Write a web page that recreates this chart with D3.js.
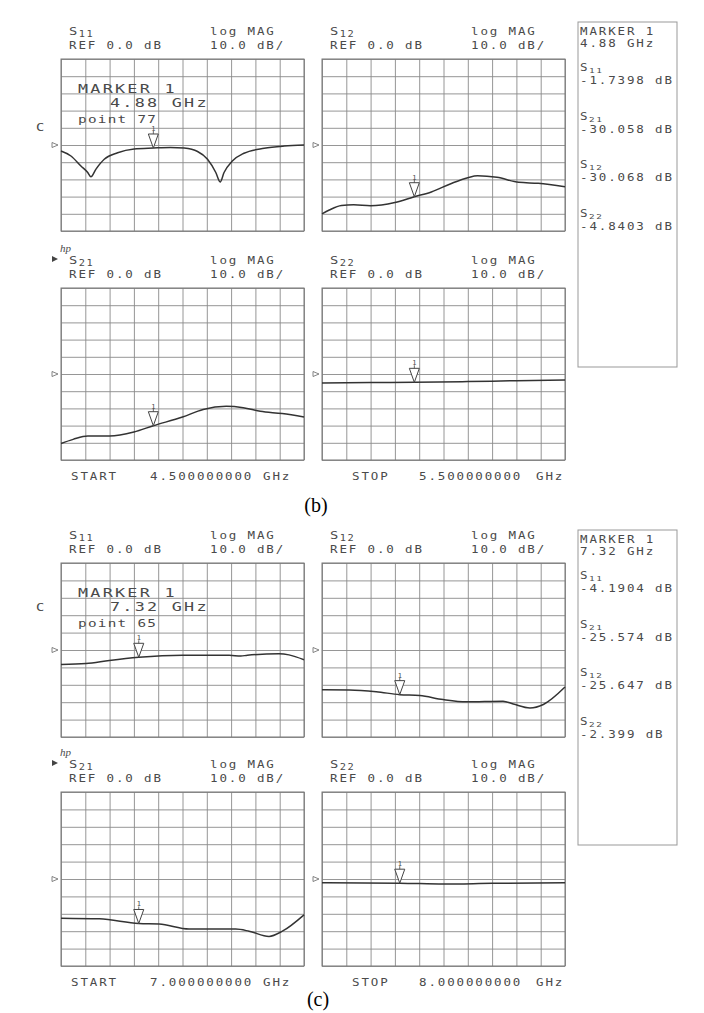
<!DOCTYPE html>
<html>
<head>
<meta charset="utf-8">
<script src="https://cdn.jsdelivr.net/npm/d3@7"></script>
<style>
  body { margin: 0; background: #fff; }
  text { font-family: "DejaVu Sans Mono", monospace; fill: #4a4a4a; }
</style>
</head>
<body>
<svg id="chart" width="704" height="1013"></svg>
<script>
// sweep settings
const sweepB = [4.5, 5.5], markerFreqB = 4.88, markerPointB = 77;
const sweepC = [7.0, 8.0], markerFreqC = 7.32, markerPointC = 65;

// marker readouts (S11, S21, S12, S22)
const params = ["S11", "S21", "S12", "S22"];
const markerDbB = [-1.7398, -30.058, -30.068, -4.8403];
const markerDbC = [-4.1904, -25.574, -25.647, -2.399];

// traces, panel (b)
const s11bF = [4.5, 4.541, 4.582, 4.61, 4.623, 4.644, 4.678, 4.733, 4.801, 4.88, 4.95, 5.007, 5.062, 5.103, 5.137, 5.155, 5.171, 5.205, 5.253, 5.336, 5.418, 5.5];
const s11bDb = [-3.5, -6.4, -12.2, -16, -18.5, -14, -8.3, -4.5, -2.3, -1.74, -1.4, -1.8, -3.8, -8.3, -16, -21.5, -16, -9.3, -4.8, -1.9, -0.6, 0];
const s12bF = [4.5, 4.53, 4.58, 4.63, 4.7, 4.8, 4.88, 4.95, 5.03, 5.1, 5.14, 5.22, 5.31, 5.39, 5.5];
const s12bDb = [-40, -37.8, -35.2, -34.8, -35.3, -33.4, -30.07, -27.3, -22.5, -19, -17.9, -18.8, -21.7, -22.3, -24.3];
const s21bF = [4.5, 4.55, 4.61, 4.7, 4.8, 4.88, 5.0, 5.085, 5.18, 5.25, 5.32, 5.41, 5.5];
const s21bDb = [-40.4, -38, -36, -36, -33.7, -30.06, -25, -20.6, -18.8, -19.6, -21.7, -23, -25];
const s22bF = [4.5, 4.7, 4.88, 5.1, 5.3, 5.5];
const s22bDb = [-5.3, -5.0, -4.84, -4.4, -3.9, -3.5];

// traces, panel (c)
const s11cF = [7.0, 7.103, 7.199, 7.32, 7.5, 7.692, 7.74, 7.767, 7.897, 7.938, 8.0];
const s11cDb = [-8.3, -7.8, -6, -4.19, -3.0, -3.0, -3.5, -3.0, -2.2, -2.8, -5.6];
const s12cF = [7.0, 7.113, 7.223, 7.32, 7.402, 7.498, 7.594, 7.745, 7.787, 7.856, 7.911, 8.0];
const s12cDb = [-22.9, -23, -24, -25.65, -26.2, -28.5, -29.8, -29.4, -31, -33.3, -31.3, -21.3];
const s21cF = [7.0, 7.158, 7.32, 7.404, 7.527, 7.719, 7.774, 7.856, 7.911, 8.0];
const s21cDb = [-22.5, -22.9, -25.57, -25.9, -28.8, -28.8, -30, -33, -30, -20.6];
const s22cF = [7.0, 7.32, 7.5, 7.7, 8.0];
const s22cDb = [-2.2, -2.4, -2.9, -2.5, -2.2];

const dbTicks = d3.range(-50, 51, 10);

const svg = d3.select("#chart");

const panels = [
  { caption: "(b)", capX: 316, capY: 512, rows: [59, 288], h: 172, box: [22, 345], cY: 131,
    sweep: sweepB, marker: markerFreqB, point: markerPointB, readout: markerDbB,
    traces: { S11: [s11bF, s11bDb], S12: [s12bF, s12bDb], S21: [s21bF, s21bDb], S22: [s22bF, s22bDb] } },
  { caption: "(c)", capX: 318, capY: 1006, rows: [563, 792], h: 174, box: [530, 315], cY: 611,
    sweep: sweepC, marker: markerFreqC, point: markerPointC, readout: markerDbC,
    traces: { S11: [s11cF, s11cDb], S12: [s12cF, s12cDb], S21: [s21cF, s21cDb], S22: [s22cF, s22cDb] } }
];

const cols = [61, 322], w = 243;
const layout = [["S11", 0, 0], ["S12", 1, 0], ["S21", 0, 1], ["S22", 1, 1]];
const SX = 1.25; // plotter lettering is wide

function txt(g, x, y, s, size, spacing, sx = SX) {
  return g.append("text").attr("transform", `translate(${x},${y}) scale(${sx},1)`)
    .attr("font-size", size).attr("letter-spacing", spacing).text(s);
}

function sLabel(g, x, y, name, size, spacing) {
  const t = g.append("text").attr("transform", `translate(${x},${y}) scale(${SX},1)`)
    .attr("font-size", size).attr("letter-spacing", spacing);
  t.append("tspan").text(name[0]);
  t.append("tspan").attr("font-size", size * 0.75).attr("dy", 2).text(name.slice(1));
  return t;
}

panels.forEach(p => {
  const g = svg.append("g");

  layout.forEach(([name, ci, ri]) => {
    const x0 = cols[ci], y0 = p.rows[ri], h = p.h;
    const x = d3.scaleLinear().domain(p.sweep).range([x0, x0 + w]);
    const y = d3.scaleLinear().domain([-50, 50]).range([y0 + h, y0]);
    const freqTicks = d3.range(11).map(i => p.sweep[0] + i * (p.sweep[1] - p.sweep[0]) / 10);

    // graticule
    const gy = g.append("g").attr("transform", `translate(${x0},0)`)
      .call(d3.axisLeft(y).tickValues(dbTicks).tickSize(-w).tickFormat(""));
    const gx = g.append("g").attr("transform", `translate(0,${y0 + h})`)
      .call(d3.axisBottom(x).tickValues(freqTicks).tickSize(-h).tickFormat(""));
    [gy, gx].forEach(a => {
      a.select(".domain").remove();
      a.selectAll("line").attr("stroke", "#8a8a8a").attr("stroke-width", 0.9);
    });
    g.append("rect").attr("x", x0).attr("y", y0).attr("width", w).attr("height", h)
      .attr("fill", "none").attr("stroke", "#777").attr("stroke-width", 1);

    // reference position arrow
    const ry = y(0);
    g.append("path").attr("d", `M${x0 - 9},${ry - 2.5}L${x0 - 3},${ry}L${x0 - 9},${ry + 2.5}Z`)
      .attr("fill", "none").attr("stroke", "#666").attr("stroke-width", 0.8);

    // trace
    const [fs, dbs] = p.traces[name];
    const pts = fs.map((f, i) => [f, dbs[i]]);
    g.append("path").datum(pts)
      .attr("fill", "none").attr("stroke", "#333").attr("stroke-width", 1.5)
      .attr("d", d3.line().x(d => x(d[0])).y(d => y(d[1])).curve(d3.curveMonotoneX));

    // marker
    const mv = p.readout[params.indexOf(name)];
    const mx = x(p.marker), my = y(mv);
    g.append("path").attr("d", `M${mx},${my}L${mx - 5},${my - 14}L${mx + 5},${my - 14}Z`)
      .attr("fill", "#fff").attr("stroke", "#444").attr("stroke-width", 1);
    g.append("line").attr("x1", mx).attr("x2", mx).attr("y1", my - 14).attr("y2", my - 17)
      .attr("stroke", "#444").attr("stroke-width", 0.8);
    g.append("text").attr("x", mx - 2).attr("y", my - 17).attr("font-size", 7).text("1");

    // header
    sLabel(g, x0 + 8, y0 - 24, name, 11, 1.2);
    txt(g, x0 + 8, y0 - 10, "REF 0.0 dB", 10, 1.5);
    txt(g, x0 + 149, y0 - 24, "log MAG", 10, 1.5);
    txt(g, x0 + 149, y0 - 10, "10.0 dB/", 10, 1.5);

    if (name === "S21") {
      g.append("text").attr("x", x0 - 1).attr("y", y0 - 36).attr("font-size", 11)
        .attr("font-style", "italic").style("font-family", "Liberation Serif, serif").text("hp");
      g.append("path").attr("d", `M${x0 - 9},${y0 - 32}L${x0 - 3},${y0 - 29}L${x0 - 9},${y0 - 26}Z`)
        .attr("fill", "#444");
      txt(g, x0 + 10, y0 + h + 20, "START", 10, 1.5);
      txt(g, x0 + 89, y0 + h + 20, d3.format(".9f")(p.sweep[0]), 10, 1.5);
      txt(g, x0 + 202, y0 + h + 20, "GHz", 10, 1.5);
    }
    if (name === "S22") {
      txt(g, x0 + 30, y0 + h + 20, "STOP", 10, 1.5);
      txt(g, x0 + 97, y0 + h + 20, d3.format(".9f")(p.sweep[1]), 10, 1.5);
      txt(g, x0 + 214, y0 + h + 20, "GHz", 10, 1.5);
    }
    if (name === "S11") {
      txt(g, x0 + 17, y0 + 34, "MARKER 1", 12, 1.6, 1.4);
      txt(g, x0 + 49, y0 + 48, d3.format(".2f")(p.marker) + " GHz", 12, 1.6, 1.4);
      txt(g, x0 + 17, y0 + 64, "point  " + p.point, 11, 1.0, 1.3);
      txt(g, 36, p.cY, "C", 11, 0);
    }
  });

  // marker readout box
  const bx = 578, [by, bh] = p.box;
  g.append("rect").attr("x", bx).attr("y", by).attr("width", 99).attr("height", bh)
    .attr("fill", "none").attr("stroke", "#999").attr("stroke-width", 1);
  txt(g, bx + 2, by + 13, "MARKER 1", 10, 1.5);
  txt(g, bx + 2, by + 25, d3.format(".2f")(p.marker) + " GHz", 10, 1.5);
  params.forEach((name, i) => {
    sLabel(g, bx + 2, by + 49 + i * 48.5, name, 10, 1.2);
    txt(g, bx + 2, by + 62 + i * 48.5, String(p.readout[i]) + " dB", 10, 1.5);
  });

  g.append("text").attr("x", p.capX).attr("y", p.capY).attr("text-anchor", "middle")
    .attr("font-size", 20).style("font-family", "Liberation Serif, Times New Roman, serif")
    .style("fill", "#000").text(p.caption);
});
</script>
</body>
</html>
